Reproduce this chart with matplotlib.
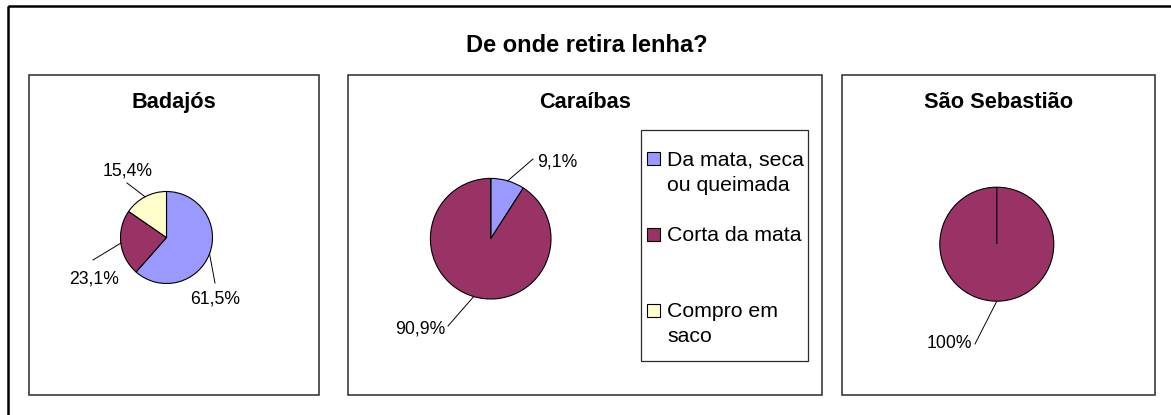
import numpy as np
import matplotlib
matplotlib.use('Agg')
import matplotlib.pyplot as plt
from matplotlib.patches import Rectangle

plt.rcParams['font.family'] = ['Liberation Sans', 'DejaVu Sans']

# data
title = 'De onde retira lenha?'
localities = ['Badajós', 'Caraíbas', 'São Sebastião']
categories = ['Da mata, seca\nou queimada', 'Corta da mata', 'Compro em\nsaco']
badajos = [61.5, 23.1, 15.4]
caraibas = [9.1, 90.9, 0.0]
sao_sebastiao = [0.0, 100.0, 0.0]
values = [badajos, caraibas, sao_sebastiao]
colors = ['#9999FF', '#993366', '#FFFFCC']

# layout, in pixels from the top-left corner
W, H = 1171, 415
panels = [(29, 75, 290, 320), (348, 75, 474, 320), (842, 75, 313, 320)]
centers = [(166.5, 237.5), (490.7, 238.7), (996.8, 244.2)]
radii = [46, 60.3, 57]
# text position (x, baseline) and leader end for each wedge label
label_pos = [
    [(215, 303), (94, 283), (128, 175)],
    [(557.5, 166.5), (420, 333), None],
    [None, (949, 348), None],
]
leader_end = [
    [(215, 283), (93, 260), (127, 183)],
    [(533, 159), (448, 326), None],
    [None, (975, 344), None],
]


def fmt(v):
    s = f'{v:.1f}'.replace('.', ',')
    if s.endswith(',0'):
        s = s[:-2]
    return s + '%'


fig = plt.figure(figsize=(W / 100, H / 100), dpi=100)
ax = fig.add_axes([0, 0, 1, 1])

# outer frame (cut by the image edge on the right and bottom)
ax.add_patch(Rectangle((7.5, 6), W, H, fill=False, edgecolor='black', lw=1.8))
ax.text(587, 52, title, fontsize=17, fontweight='bold', ha='center', va='baseline')

for i, vals in enumerate(values):
    px, py, pw, ph = panels[i]
    ax.add_patch(Rectangle((px, py), pw, ph, fill=False, edgecolor='#2a2a2a', lw=1.1))
    ax.text(px + pw / 2, 108, localities[i], fontsize=15.7, fontweight='bold',
            ha='center', va='baseline')

    cx, cy = centers[i]
    r = radii[i]
    # y axis is inverted, so counterclock=True turns clockwise on screen
    wedges, _ = ax.pie(vals, colors=colors, startangle=-90, counterclock=True,
                       center=(cx, cy), radius=r,
                       wedgeprops=dict(edgecolor='black', linewidth=0.8))
    for j, w in enumerate(wedges):
        if vals[j] == 0:
            continue
        mid = np.deg2rad((w.theta1 + w.theta2) / 2)
        ex, ey = cx + r * np.cos(mid), cy + r * np.sin(mid)
        lx, ly = leader_end[i][j]
        ax.plot([ex, lx], [ey, ly], color='black', lw=0.7)
        tx, ty = label_pos[i][j]
        ax.text(tx, ty, fmt(vals[j]), fontsize=12.7, ha='center', va='baseline')

# legend drawn inside the Caraíbas panel
ax.add_patch(Rectangle((641, 130), 167, 231, fill=False, edgecolor='#2a2a2a', lw=0.9))
for k, (cat, col) in enumerate(zip(categories, colors)):
    base = 165.5 + k * 75.8
    ax.add_patch(Rectangle((647, base - 13.5), 13, 13, facecolor=col,
                           edgecolor='black', lw=0.8))
    for li, line in enumerate(cat.split('\n')):
        ax.text(667, base + li * 25, line, fontsize=15.3, ha='left', va='baseline')

ax.set_xlim(0, W)
ax.set_ylim(H, 0)
ax.set_aspect('equal')
ax.axis('off')

plt.savefig('out.png', dpi=100)
